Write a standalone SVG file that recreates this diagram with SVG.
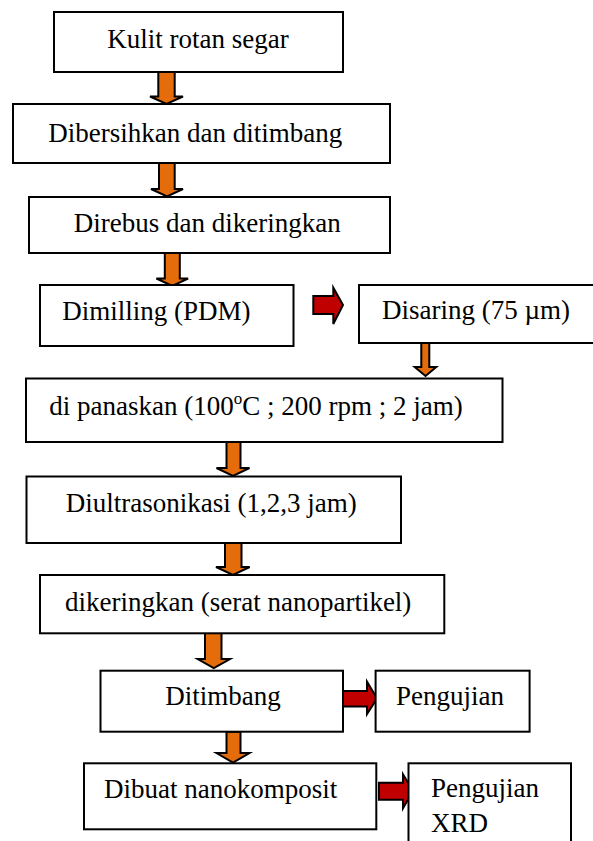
<svg xmlns="http://www.w3.org/2000/svg" width="593" height="841" viewBox="0 0 593 841">
<style>
.box{fill:#fff;stroke:#000;stroke-width:2}
text{font-family:'Liberation Serif','Times New Roman',Tinos,'DejaVu Serif',serif;font-size:27px;fill:#000}
.down{fill:#E46C0A;stroke:#000;stroke-width:2;stroke-linejoin:miter}
.right{fill:#C00000;stroke:#000;stroke-width:2;stroke-linejoin:miter}
</style>
<rect width="593" height="841" fill="#fff"/>
<g id="connectors">
<path class="down" d="M158.3,72 L174.7,72 L174.7,96.5 L183,96.5 L166.5,104 L150,96.5 L158.3,96.5 Z"/>
<path class="down" d="M159,163 L174.7,163 L174.7,189 L183,189 L167,196.5 L151,189 L159,189 Z"/>
<path class="down" d="M164.8,253 L179.8,253 L179.8,278.5 L188.1,278.5 L172.3,286 L156.4,278.5 L164.8,278.5 Z"/>
<path class="down" d="M421.3,343 L429.3,343 L429.3,367 L436.3,367 L425.5,376 L414.7,367 L421.3,367 Z"/>
<path class="down" d="M226.5,442 L240.5,442 L240.5,468 L249.5,468 L233,476 L216.5,468 L226.5,468 Z"/>
<path class="down" d="M225,543 L241.5,543 L241.5,567 L249.7,567 L233,575 L216,567 L225,567 Z"/>
<path class="down" d="M205,633 L221.5,633 L221.5,659 L230,659 L213.8,668 L197.7,659 L205,659 Z"/>
<path class="down" d="M226.5,731.7 L240.5,731.7 L240.5,753 L249.5,753 L233,762.5 L216.5,753 L226.5,753 Z"/>
<path class="right" d="M313.3,296 L333.3,296 L333.3,287.7 L343,305 L333.3,324 L333.3,314 L313.3,314 Z"/>
<path class="right" d="M343,691 L367,691 L367,681.7 L377,698.5 L367,714 L367,706.5 L343,706.5 Z"/>
<path class="right" d="M379,782.7 L403,782.7 L403,774.3 L413,791 L403,808.3 L403,799.7 L379,799.7 Z"/>
</g>
<g id="n1"><rect class="box" x="54" y="12" width="289" height="60"/><text x="107.3" y="48.3">Kulit rotan segar</text></g>
<g id="n2"><rect class="box" x="13" y="104" width="377" height="59"/><text x="48.3" y="141.7">Dibersihkan dan ditimbang</text></g>
<g id="n3"><rect class="box" x="29" y="197" width="361" height="56"/><text x="73.8" y="231.7">Direbus dan dikeringkan</text></g>
<g id="n4"><rect class="box" x="40" y="285" width="253.5" height="61"/><text x="62.3" y="320">Dimilling (PDM)</text></g>
<g id="n5"><rect class="box" x="359" y="285" width="236" height="58"/><text x="382" y="319.3">Disaring (75 µm)</text></g>
<g id="n6"><rect class="box" x="26" y="378.5" width="476.5" height="63.5"/><text x="49.3" y="414.5">di panaskan (100<tspan font-size="17" dy="-11">o</tspan><tspan dy="11">C ; 200 rpm ; 2 jam)</tspan></text></g>
<g id="n7"><rect class="box" x="26.5" y="476.5" width="374.5" height="66.5"/><text x="65.7" y="511.7">Diultrasonikasi (1,2,3 jam)</text></g>
<g id="n8"><rect class="box" x="40" y="575" width="404.3" height="58.3"/><text x="65" y="611.3">dikeringkan (serat nanopartikel)</text></g>
<g id="n9"><rect class="box" x="100.5" y="670.7" width="242.5" height="61"/><text x="165.3" y="705">Ditimbang</text></g>
<g id="n10"><rect class="box" x="375.6" y="670.7" width="154" height="61"/><text x="396" y="705">Pengujian</text></g>
<g id="n11"><rect class="box" x="84" y="763.3" width="292.3" height="66"/><text x="104" y="797.7">Dibuat nanokomposit</text></g>
<g id="n12"><rect class="box" x="408.5" y="763.3" width="162.5" height="82"/><text x="431" y="797.3">Pengujian</text><text x="431" y="831.7">XRD</text></g>
</svg>
